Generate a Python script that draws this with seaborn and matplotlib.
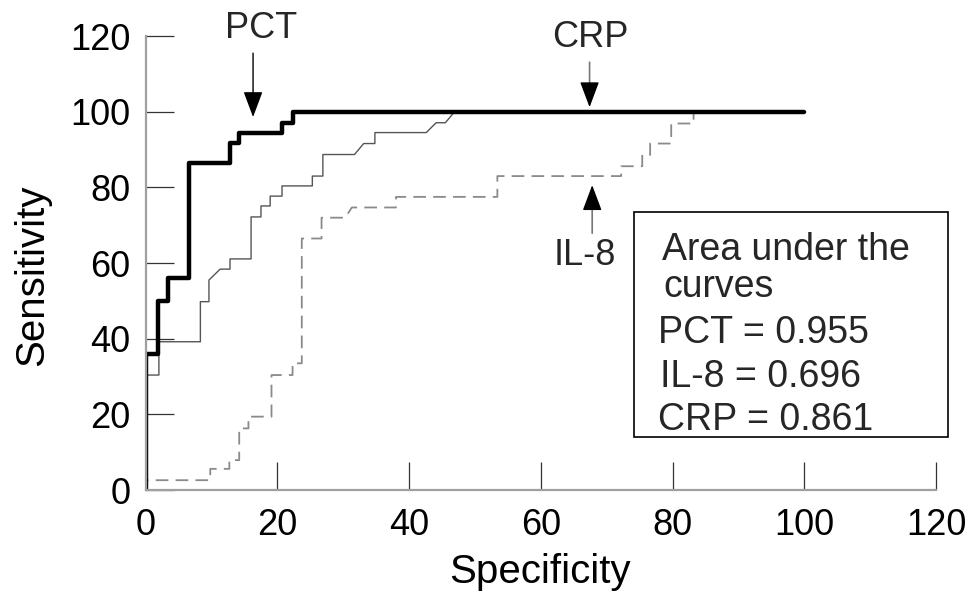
import matplotlib
matplotlib.use("Agg")
import matplotlib.pyplot as plt
from matplotlib.patches import Rectangle
import seaborn as sns
import pandas as pd

# ROC curve vertices (specificity axis, sensitivity)
pct_x = [0, 0, 1.8, 1.8, 3.4, 3.4, 6.5, 6.5, 12.8, 12.8, 14.2, 14.2, 20.7, 20.7, 22.3, 22.3, 100]
pct_y = [0, 36, 36, 50, 50, 56, 56, 86.4, 86.4, 91.8, 91.8, 94.5, 94.5, 97.1, 97.1, 100, 100]

crp_x = [0, 0, 2.0, 2.0, 8.3, 8.3, 9.6, 9.6, 11.3, 12.8, 12.8, 16.0, 16.0, 17.5, 17.5, 18.9, 18.9,
         20.7, 20.7, 25.3, 25.3, 26.9, 26.9, 31.7, 33.1, 34.8, 34.8, 42.6, 44.1, 45.5, 46.9, 100]
crp_y = [0, 30.4, 30.4, 39.2, 39.2, 49.8, 49.8, 55.5, 58.4, 58.4, 61.1, 61.1, 72.2, 72.2, 75.1, 75.1, 77.7,
         77.7, 80.4, 80.4, 83, 83, 88.7, 88.7, 91.6, 91.6, 94.5, 94.5, 97.1, 97.1, 100, 100]

il8_x = [0, 0, 9.8, 9.8, 12.7, 12.7, 14.2, 14.2, 15.6, 15.6, 19.1, 19.1, 22.3, 22.3, 23.7, 23.7, 26.7, 26.7,
         30.3, 31.3, 38.0, 38.0, 53.4, 53.4, 72.2, 72.2, 75.4, 75.4, 76.6, 76.6, 79.8, 79.8, 83.2, 83.2, 100]
il8_y = [0, 2.6, 2.6, 5.6, 5.6, 7.9, 7.9, 16.3, 16.3, 19.4, 19.4, 30.4, 30.4, 33.5, 33.5, 66.5, 66.5, 72,
         72, 74.7, 74.7, 77.5, 77.5, 83, 83, 85.6, 85.6, 88.6, 88.6, 91.6, 91.6, 96.9, 96.9, 100, 100]

ticks = [0, 20, 40, 60, 80, 100, 120]
auc_lines = ["Area under the", "curves", "PCT = 0.955", "IL-8 = 0.696", "CRP = 0.861"]

sns.set_theme(style="white")
plt.rcParams["font.family"] = ["Liberation Sans", "DejaVu Sans"]

fig = plt.figure(figsize=(9.78, 6.02), dpi=100)
ax = fig.add_axes([0.149, 0.186, 0.808, 0.754])

sns.lineplot(x=il8_x, y=il8_y, sort=False, estimator=None, ax=ax, color="#8a8a8a",
             linewidth=1.3, dashes=False)
ax.lines[-1].set_dashes((7, 4))
sns.lineplot(x=crp_x, y=crp_y, sort=False, estimator=None, ax=ax, color="#555555", linewidth=1.0)
sns.lineplot(x=pct_x, y=pct_y, sort=False, estimator=None, ax=ax, color="black", linewidth=3.2)

ax.set_xlim(0, 120)
ax.set_ylim(0, 120)
ax.set_xticks(ticks)
ax.set_yticks(ticks)
ax.set_xticklabels([str(t) for t in ticks])
ax.set_yticklabels([str(t) for t in ticks])
ax.tick_params(axis="both", direction="in", length=20, width=0.9, color="#333333",
               labelsize=26, labelcolor="black", bottom=True, left=True)
ax.tick_params(axis="x", pad=13)
ax.tick_params(axis="y", pad=11)

for s in ["top", "right"]:
    ax.spines[s].set_visible(False)
for s in ["left", "bottom"]:
    ax.spines[s].set_color("#a0a0a0")
    ax.spines[s].set_linewidth(1.6)

ax.set_xlabel("Specificity", fontsize=29, color="black")
ax.set_ylabel("Sensitivity", fontsize=29, color="black")
ax.xaxis.set_label_coords(0.499, -0.138)
ax.yaxis.set_label_coords(-0.12, 0.474)

head = "-|>,head_length=16,head_width=6"

# PCT arrow (black)
ax.annotate("", xy=(16.3, 98.6), xytext=(16.3, 115.5),
            arrowprops=dict(arrowstyle=head, color="black", lw=1.0, mutation_scale=1,
                            shrinkA=0, shrinkB=0), annotation_clip=False)
ax.text(17.5, 122.1, "PCT", fontsize=26, ha="center", va="center", clip_on=False)

# CRP arrow (gray shaft, black head)
ax.annotate("", xy=(67.4, 106), xytext=(67.4, 113.1),
            arrowprops=dict(arrowstyle="-", color="#777777", lw=1.2, shrinkA=0, shrinkB=0),
            annotation_clip=False)
ax.annotate("", xy=(67.4, 101.2), xytext=(67.4, 107),
            arrowprops=dict(arrowstyle=head, color="black", lw=1.0, mutation_scale=1,
                            shrinkA=0, shrinkB=0), annotation_clip=False)
ax.text(67.5, 119.7, "CRP", fontsize=26, ha="center", va="center", clip_on=False)

# IL-8 arrow (gray shaft, black head)
ax.annotate("", xy=(67.8, 76), xytext=(67.8, 67.9),
            arrowprops=dict(arrowstyle="-", color="#777777", lw=1.2, shrinkA=0, shrinkB=0),
            annotation_clip=False)
ax.annotate("", xy=(67.8, 80.6), xytext=(67.8, 75),
            arrowprops=dict(arrowstyle=head, color="black", lw=1.0, mutation_scale=1,
                            shrinkA=0, shrinkB=0), annotation_clip=False)
ax.text(66.7, 61.9, "IL-8", fontsize=26, ha="center", va="center", clip_on=False)

# AUC box (figure pixel coordinates -> fraction)
W, H = 978.0, 602.0
fig.patches.append(Rectangle((634 / W, 1 - 436.7 / H), (948 - 634) / W, (436.7 - 211.7) / H,
                             transform=fig.transFigure, fill=False, edgecolor="black",
                             linewidth=1.2))
line_x = [661.7, 663, 658, 660, 658]
line_y = [260, 296.7, 343.3, 386.7, 430]
for txt, lx, ly in zip(auc_lines, line_x, line_y):
    fig.text(lx / W, 1 - ly / H, txt, fontsize=27, ha="left", va="baseline")

fig.savefig("out.png", dpi=100)
